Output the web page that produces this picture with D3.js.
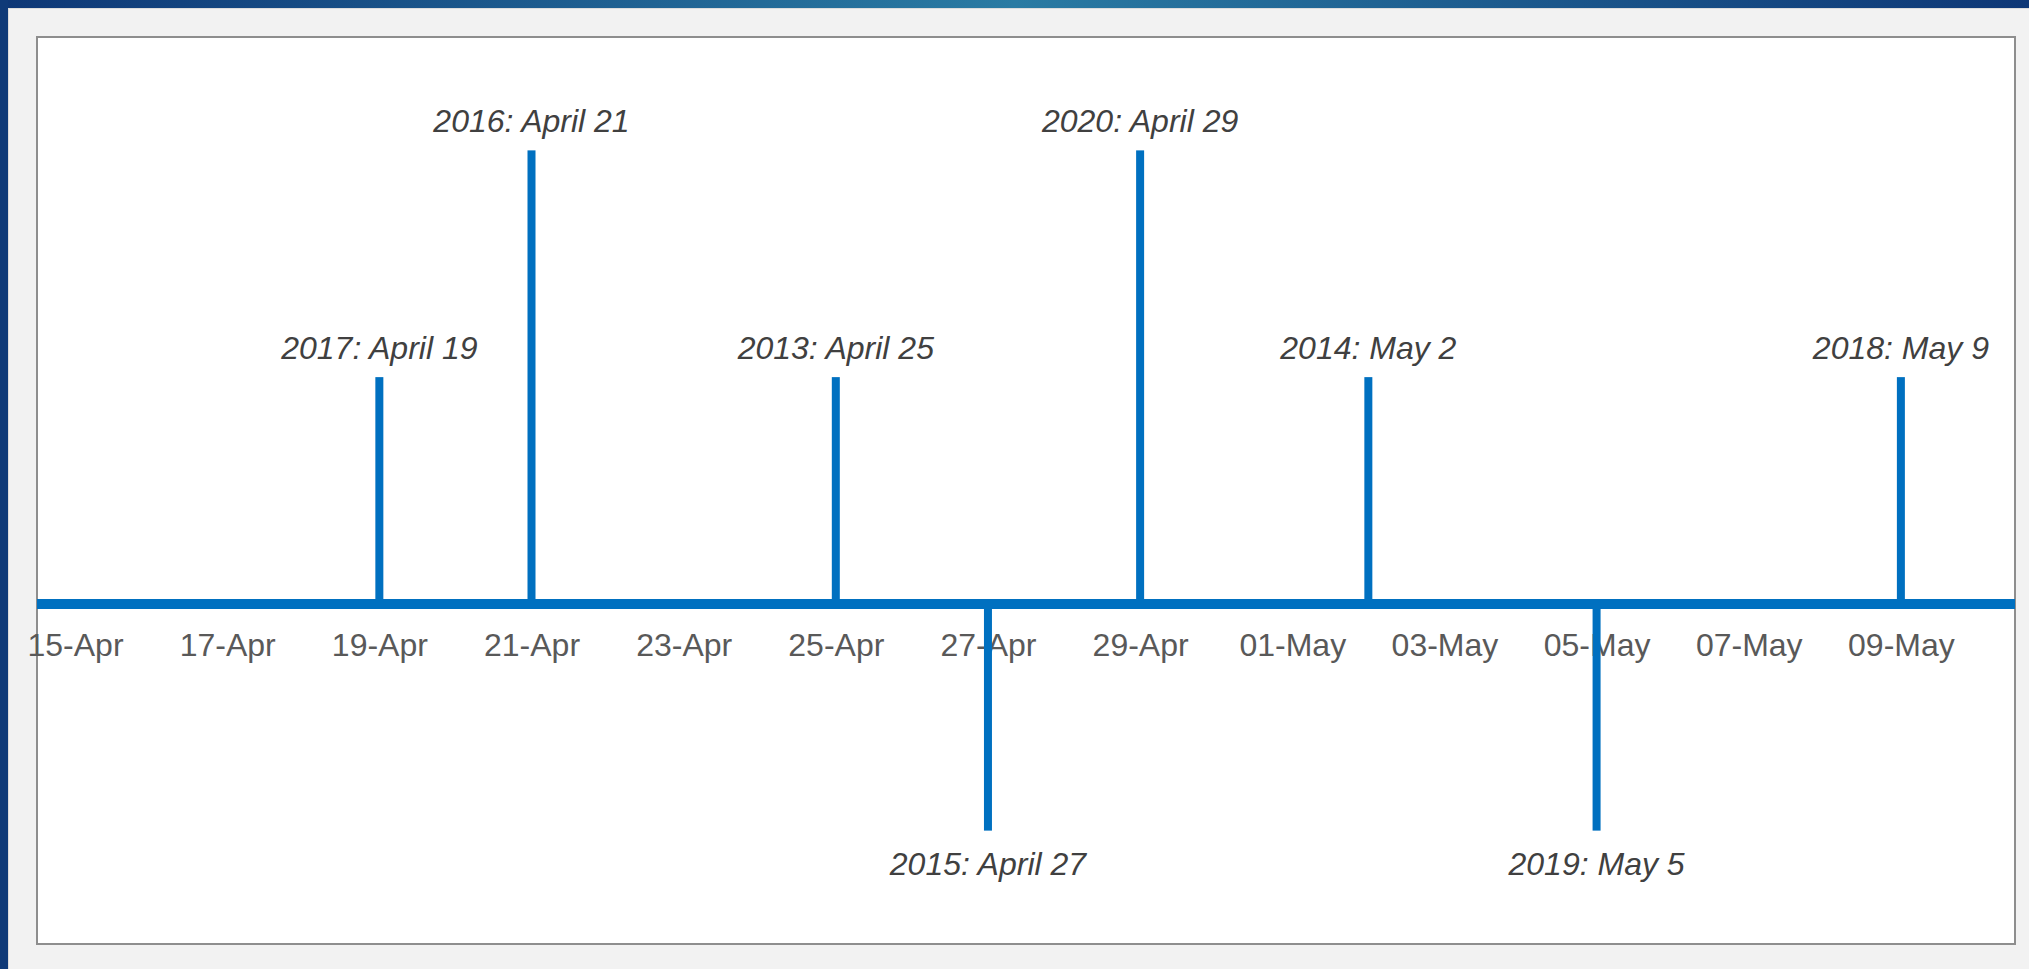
<!DOCTYPE html>
<html>
<head>
<meta charset="utf-8">
<script src="https://cdn.jsdelivr.net/npm/d3@7"></script>
<style>
  html, body { margin: 0; padding: 0; background: #f2f2f2; }
  svg { display: block; }
</style>
</head>
<body>
<svg id="chart" width="2029" height="969"></svg>
<script>
// ---- data ----
const years  = [2013, 2014, 2015, 2016, 2017, 2018, 2019, 2020];
const dates  = ["04-25", "05-02", "04-27", "04-21", "04-19", "05-09", "05-05", "04-29"];
const heights = [1, 1, -1, 2, 1, 1, -1, 2];
const labels = ["2013: April 25", "2014: May 2", "2015: April 27", "2016: April 21",
                "2017: April 19", "2018: May 9", "2019: May 5", "2020: April 29"];
const axisStart = "04-14 12:00";
const axisEnd   = "05-10 12:00";
const valueDomain = [-1.5, 2.5];

// ---- layout ----
const W = 2029, H = 969;
const panel = { x: 37, y: 37, w: 2015 - 37, h: 944 - 37 };
const blue = "#0070C0";
const font = "'Century Gothic', 'Liberation Sans', Arial, sans-serif";

const parse = d3.timeParse("%Y-%m-%d %H:%M");
const toDate = s => parse("2021-" + (s.length === 5 ? s + " 00:00" : s));

const svg = d3.select("#chart");

// background frame
const defs = svg.append("defs");
const grad = defs.append("linearGradient").attr("id", "topband").attr("x1", "0%").attr("x2", "100%");
grad.append("stop").attr("offset", "0%").attr("stop-color", "#0e3776");
grad.append("stop").attr("offset", "50%").attr("stop-color", "#2a7ba3");
grad.append("stop").attr("offset", "100%").attr("stop-color", "#0e3776");

svg.append("rect").attr("width", W).attr("height", H).attr("fill", "#f2f2f2");
svg.append("rect").attr("x", 0).attr("y", 0).attr("width", W).attr("height", 8).attr("fill", "url(#topband)");
svg.append("rect").attr("x", 0).attr("y", 0).attr("width", 8).attr("height", H).attr("fill", "#0f3a78");
svg.append("rect").attr("x", 8).attr("y", 8).attr("width", 1).attr("height", H - 8).attr("fill", "#dcdcdc");
svg.append("rect").attr("x", 8).attr("y", 8).attr("width", W - 8).attr("height", 1).attr("fill", "#dcdcdc");

// chart panel
svg.append("rect")
  .attr("x", panel.x).attr("y", panel.y).attr("width", panel.w).attr("height", panel.h)
  .attr("fill", "#ffffff").attr("stroke", "#8e8e8e").attr("stroke-width", 2);

// scales
const x = d3.scaleTime()
  .domain([toDate(axisStart), toDate(axisEnd)])
  .range([panel.x, panel.x + panel.w]);
const y = d3.scaleLinear()
  .domain(valueDomain)
  .range([panel.y + panel.h, panel.y]);

const data = years.map((yr, i) => ({
  year: yr, date: toDate(dates[i]), v: heights[i], label: labels[i]
}));

// axis tick labels (drawn beneath stems)
const axisG = svg.append("g")
  .attr("transform", `translate(0,${y(0)})`)
  .call(d3.axisBottom(x)
    .ticks(d3.timeDay.every(2))
    .tickFormat(d3.timeFormat("%d-%b"))
    .tickSize(0));
axisG.select(".domain").remove();
axisG.selectAll("text")
  .attr("y", 52).attr("dy", 0)
  .attr("fill", "#595959")
  .style("font-family", font)
  .style("font-size", "32px");

// stems
svg.append("g").selectAll("rect")
  .data(data).join("rect")
  .attr("x", d => x(d.date) - 4)
  .attr("width", 8)
  .attr("y", d => Math.min(y(d.v), y(0)))
  .attr("height", d => Math.abs(y(d.v) - y(0)))
  .attr("fill", blue);

// baseline
svg.append("line")
  .attr("x1", x.range()[0]).attr("x2", x.range()[1])
  .attr("y1", y(0)).attr("y2", y(0))
  .attr("stroke", blue).attr("stroke-width", 10);

// data labels
svg.append("g").selectAll("text")
  .data(data).join("text")
  .attr("x", d => x(d.date))
  .attr("y", d => d.v > 0 ? y(d.v) - 18 : y(d.v) + 44)
  .attr("text-anchor", "middle")
  .attr("fill", "#404040")
  .style("font-family", font)
  .style("font-style", "italic")
  .style("font-size", "32px")
  .text(d => d.label);
</script>
</body>
</html>
